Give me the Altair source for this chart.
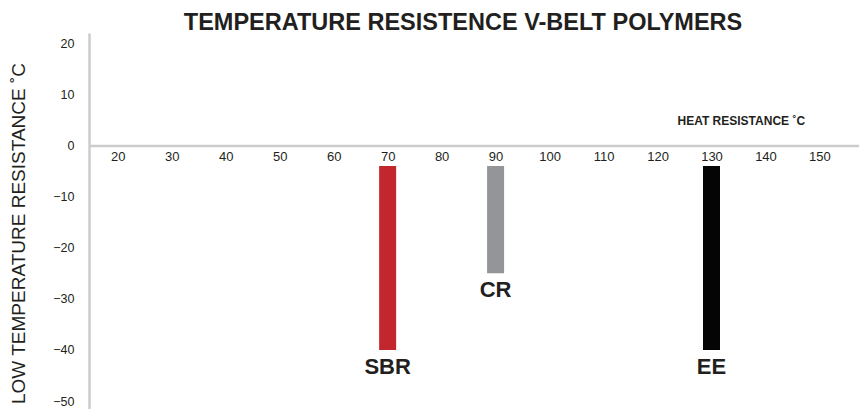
import altair as alt
import pandas as pd

# ---- data ----
polymers = ["SBR", "CR", "EE"]
heat_resistance = [70, 90, 130]
low_start = [-4, -4, -4]
low_resistance = [-40, -25, -40]
bar_colors = ["#c1272d", "#939598", "#050505"]

x_ticks = [20, 30, 40, 50, 60, 70, 80, 90, 100, 110, 120, 130, 140, 150]
y_ticks = [20, 10, 0, -10, -20, -30, -40, -50]

chart_title = "TEMPERATURE RESISTENCE V-BELT POLYMERS"

df = pd.DataFrame({
    "polymer": polymers,
    "heat": heat_resistance,
    "start": low_start,
    "low": low_resistance,
})

FONT = "Liberation Sans"
TXT = "#231f20"

x_scale = alt.Scale(domain=[15.6, 156.4], nice=False, zero=False)
y_scale = alt.Scale(domain=[-51.56, 22.0], nice=False, zero=False)

x_enc = alt.X(
    "heat:Q",
    scale=x_scale,
    axis=alt.Axis(
        orient="bottom",
        offset=-263.6,
        values=x_ticks,
        ticks=False,
        grid=False,
        domainColor="#cccccc",
        domainWidth=2.5,
        labelFont=FONT,
        labelFontSize=13,
        labelColor=TXT,
        labelPadding=5,
        title="HEAT RESISTANCE ˚C",
        titleFont=FONT,
        titleFontSize=12,
        titleFontWeight="bold",
        titleColor=TXT,
        titleX=588,
        titleY=-25,
        titleAlign="left",
        titleBaseline="middle",
    ),
)

y_axis = alt.Axis(
    orient="left",
    values=y_ticks,
    ticks=False,
    grid=False,
    domainColor="#cccccc",
    domainWidth=2.5,
    labelFont=FONT,
    labelFontSize=12.5,
    labelColor=TXT,
    labelPadding=15,
    title="LOW TEMPERATURE RESISTANCE ˚C",
    titleFont=FONT,
    titleFontSize=19,
    titleFontWeight="normal",
    titleColor=TXT,
    titleAngle=270,
    titleX=-71,
    titleY=200,
    titleAlign="center",
    titleBaseline="middle",
)

bars = alt.Chart(df).mark_bar(size=17).encode(
    x=x_enc,
    y=alt.Y("start:Q", scale=y_scale, axis=y_axis),
    y2="low:Q",
    color=alt.Color("polymer:N", scale=alt.Scale(domain=polymers, range=bar_colors), legend=None),
)

labels = alt.Chart(df).mark_text(
    font=FONT,
    fontSize=22,
    fontWeight="bold",
    color=TXT,
    baseline="top",
    align="center",
    dy=7,
).encode(
    x=alt.X("heat:Q", scale=x_scale),
    y=alt.Y("low:Q", scale=y_scale),
    text="polymer:N",
)

title_text = alt.Chart(pd.DataFrame({"t": [chart_title]})).mark_text(
    font=FONT,
    fontSize=23.5,
    fontWeight="bold",
    color=TXT,
    baseline="alphabetic",
    align="center",
).encode(
    x=alt.value(374),
    y=alt.value(-3),
    text="t:N",
)

chart = alt.layer(bars, labels, title_text).properties(
    width=770,
    height=376,
    autosize=alt.AutoSizeParams(type="none"),
    padding={"left": 81, "top": 25, "right": 0, "bottom": 0},
).configure_view(stroke=None)

chart.save("out.html", embed_options={"renderer": "svg", "actions": False})
